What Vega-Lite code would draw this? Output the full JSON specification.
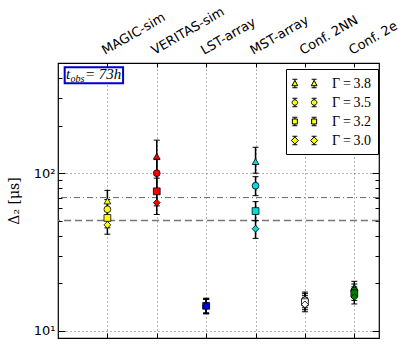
{
  "$schema": "https://vega.github.io/schema/vega-lite/v6.json",
  "width": 321,
  "height": 275,
  "autosize": "none",
  "padding": {"left": 58, "top": 63, "right": 36, "bottom": 8},
  "background": "white",
  "config": {
    "view": {"stroke": "black", "strokeWidth": 1.2},
    "axis": {"labelColor": "black", "tickColor": "black", "domain": false}
  },
  "data": {
    "values": [
      {"t": "MAGIC-sim", "g": "3.8", "v": 66.6, "lo": 57.5, "hi": 77.8},
      {"t": "MAGIC-sim", "g": "3.5", "v": 59, "lo": 51, "hi": 68},
      {"t": "MAGIC-sim", "g": "3.2", "v": 52, "lo": 45, "hi": 60},
      {"t": "MAGIC-sim", "g": "3.0", "v": 47, "lo": 41, "hi": 54},
      {"t": "VERITAS-sim", "g": "3.8", "v": 128, "lo": 101, "hi": 162},
      {"t": "VERITAS-sim", "g": "3.5", "v": 100, "lo": 80, "hi": 122},
      {"t": "VERITAS-sim", "g": "3.2", "v": 76.7, "lo": 62, "hi": 93},
      {"t": "VERITAS-sim", "g": "3.0", "v": 65, "lo": 54.7, "hi": 77},
      {"t": "LST-array", "g": "3.8", "v": 14.5, "lo": 13.0, "hi": 16.1},
      {"t": "LST-array", "g": "3.5", "v": 14.4, "lo": 12.9, "hi": 16.0},
      {"t": "LST-array", "g": "3.2", "v": 14.4, "lo": 12.9, "hi": 15.9},
      {"t": "LST-array", "g": "3.0", "v": 14.3, "lo": 12.8, "hi": 15.8},
      {"t": "MST-array", "g": "3.8", "v": 118.5, "lo": 100, "hi": 146},
      {"t": "MST-array", "g": "3.5", "v": 83.2, "lo": 72, "hi": 95},
      {"t": "MST-array", "g": "3.2", "v": 57.5, "lo": 50, "hi": 66},
      {"t": "MST-array", "g": "3.0", "v": 44.4, "lo": 38.6, "hi": 50},
      {"t": "Conf. 2NN", "g": "3.8", "v": 16.0, "lo": 14.4, "hi": 17.6},
      {"t": "Conf. 2NN", "g": "3.5", "v": 15.6, "lo": 14.0, "hi": 17.2},
      {"t": "Conf. 2NN", "g": "3.2", "v": 15.2, "lo": 13.6, "hi": 16.7},
      {"t": "Conf. 2NN", "g": "3.0", "v": 14.7, "lo": 13.2, "hi": 16.2},
      {"t": "Conf. 2e", "g": "3.8", "v": 18.8, "lo": 16.9, "hi": 20.6},
      {"t": "Conf. 2e", "g": "3.5", "v": 18.0, "lo": 16.2, "hi": 19.8},
      {"t": "Conf. 2e", "g": "3.2", "v": 17.3, "lo": 15.6, "hi": 19.0},
      {"t": "Conf. 2e", "g": "3.0", "v": 16.4, "lo": 14.8, "hi": 18.1}
    ]
  },
  "resolve": {
    "scale": {"shape": "independent"},
    "axis": {"x": "independent", "y": "independent"}
  },
  "layer": [
    {
      "data": {"values": [{"ref": 70}]},
      "mark": {"type": "rule", "color": "#666", "strokeWidth": 1, "strokeDash": [6, 3, 1, 3]},
      "encoding": {"y": {"field": "ref", "type": "quantitative", "axis": null}}
    },
    {
      "data": {"values": [{"ref": 50}]},
      "mark": {"type": "rule", "color": "#777", "strokeWidth": 1.5, "strokeDash": [7, 4]},
      "encoding": {"y": {"field": "ref", "type": "quantitative", "axis": null}}
    },
    {
      "mark": {"type": "rule", "color": "black", "strokeWidth": 1.5},
      "encoding": {
        "x": {
          "field": "t", "type": "nominal",
          "scale": {"type": "point", "padding": 0.75, "align": 0.6667,
            "domain": ["MAGIC-sim", "VERITAS-sim", "LST-array", "MST-array", "Conf. 2NN", "Conf. 2e"]},
          "axis": {
            "orient": "top", "title": null, "labels": false,
            "tickSize": -4, "grid": true, "gridDash": [1, 3],
            "gridColor": "#666", "gridWidth": 1
          }
        },
        "y": {
          "field": "lo", "type": "quantitative",
          "scale": {"type": "log", "domain": [9, 500], "nice": false, "zero": false},
          "axis": {
            "orient": "left",
            "values": [10, 20, 30, 40, 50, 60, 70, 80, 90, 100, 200, 300, 400],
            "labelExpr": "datum.value == 10 ? '10¹' : (datum.value == 100 ? '10²' : '')",
            "labelFont": "DejaVu Sans", "labelFontSize": 13, "labelPadding": 10,
            "labelOverlap": false,
            "tickSize": {"condition": {"test": "datum.value == 10 || datum.value == 100", "value": -7}, "value": -4},
            "grid": true, "gridDash": [1, 3], "gridColor": "#666",
            "gridOpacity": {"condition": {"test": "datum.value == 10 || datum.value == 100", "value": 1}, "value": 0},
            "title": "Δ₂ [μs]", "titleFont": "DejaVu Serif", "titleFontSize": 14,
            "titleFontWeight": "normal", "titleColor": "black", "titlePadding": 12
          }
        },
        "y2": {"field": "hi"}
      }
    },
    {
      "mark": {"type": "tick", "color": "black", "thickness": 1, "size": 6, "opacity": 1},
      "encoding": {
        "x": {"field": "t", "type": "nominal",
          "axis": {"orient": "bottom", "labels": false, "title": null, "tickSize": -5, "grid": false}},
        "y": {"field": "lo", "type": "quantitative",
          "axis": {
            "orient": "right", "labels": false, "title": null, "grid": false,
            "values": [10, 20, 30, 40, 50, 60, 70, 80, 90, 100, 200, 300, 400],
            "tickSize": {"condition": {"test": "datum.value == 10 || datum.value == 100", "value": -7}, "value": -4}
          }}
      }
    },
    {
      "mark": {"type": "tick", "color": "black", "thickness": 1, "size": 6, "opacity": 1},
      "encoding": {
        "x": {"field": "t", "type": "nominal", "axis": null},
        "y": {"field": "hi", "type": "quantitative", "axis": null}
      }
    },
    {
      "mark": {"type": "point", "filled": true, "stroke": "black", "strokeWidth": 0.8, "size": 46, "opacity": 1},
      "encoding": {
        "x": {"field": "t", "type": "nominal", "axis": null},
        "y": {"field": "v", "type": "quantitative", "axis": null},
        "shape": {"field": "g", "type": "nominal", "legend": null,
          "scale": {"domain": ["3.8", "3.5", "3.2", "3.0"], "range": ["triangle-up", "circle", "square", "diamond"]}},
        "fill": {"field": "t", "type": "nominal", "legend": null,
          "scale": {"domain": ["MAGIC-sim", "VERITAS-sim", "LST-array", "MST-array", "Conf. 2NN", "Conf. 2e"],
            "range": ["#ffff00", "#ff0000", "#0000ff", "#00dddd", "#ffffff", "#008000"]}}
      }
    },
    {
      "data": {"values": [{"t": "MAGIC-sim"}, {"t": "VERITAS-sim"}, {"t": "LST-array"}, {"t": "MST-array"}, {"t": "Conf. 2NN"}, {"t": "Conf. 2e"}]},
      "mark": {"type": "text", "font": "DejaVu Sans", "fontSize": 13, "color": "black", "align": "left", "baseline": "alphabetic", "dx": 2, "dy": -8, "clip": false},
      "encoding": {
        "x": {"field": "t", "type": "nominal", "axis": null},
        "y": {"datum": 500, "type": "quantitative", "axis": null},
        "angle": {"value": 330},
        "text": {"field": "t"}
      }
    },
    {
      "transform": [{"filter": "false"}],
      "mark": {"type": "point", "filled": true, "strokeWidth": 1, "opacity": 1},
      "encoding": {
        "fill": {"value": "#ffff00"},
        "stroke": {"value": "black"},
        "shape": {
          "field": "g", "type": "nominal",
          "scale": {
            "domain": ["3.8", "3.5", "3.2", "3.0"],
            "range": [
              "M-1.203,-0.531L-1.203,-0.406M-1.203,0.281L-1.203,0.531M-1.516,-0.531L-0.891,-0.531M-1.516,0.531L-0.891,0.531M-1.563,0.281L-0.844,0.281L-1.203,-0.406ZM1.203,-0.531L1.203,-0.406M1.203,0.281L1.203,0.531M0.891,-0.531L1.516,-0.531M0.891,0.531L1.516,0.531M0.844,0.281L1.563,0.281L1.203,-0.406Z",
              "M-1.203,-0.531L-1.203,-0.344M-1.203,0.344L-1.203,0.531M-1.516,-0.531L-0.891,-0.531M-1.516,0.531L-0.891,0.531M-1.547,0A0.344,0.344,0,1,0,-0.859,0A0.344,0.344,0,1,0,-1.547,0ZM1.203,-0.531L1.203,-0.344M1.203,0.344L1.203,0.531M0.891,-0.531L1.516,-0.531M0.891,0.531L1.516,0.531M0.859,0A0.344,0.344,0,1,0,1.547,0A0.344,0.344,0,1,0,0.859,0Z",
              "M-1.203,-0.531L-1.203,-0.313M-1.203,0.313L-1.203,0.531M-1.516,-0.531L-0.891,-0.531M-1.516,0.531L-0.891,0.531M-1.516,-0.313L-0.891,-0.313L-0.891,0.313L-1.516,0.313ZM1.203,-0.531L1.203,-0.313M1.203,0.313L1.203,0.531M0.891,-0.531L1.516,-0.531M0.891,0.531L1.516,0.531M0.891,-0.313L1.516,-0.313L1.516,0.313L0.891,0.313Z",
              "M-1.203,-0.531L-1.203,-0.438M-1.203,0.438L-1.203,0.531M-1.516,-0.531L-0.891,-0.531M-1.516,0.531L-0.891,0.531M-1.203,-0.438L-0.766,0L-1.203,0.438L-1.641,0ZM1.203,-0.531L1.203,-0.438M1.203,0.438L1.203,0.531M0.891,-0.531L1.516,-0.531M0.891,0.531L1.516,0.531M1.203,-0.438L1.641,0L1.203,0.438L0.766,0Z"
            ]
          },
          "legend": {
            "title": null, "orient": "none", "legendX": 228, "legendY": 6,
            "labelExpr": "'Γ\u2009=\u2009' + datum.label",
            "labelFont": "Liberation Serif", "labelFontSize": 14, "labelColor": "black",
            "symbolSize": 256, "symbolStrokeWidth": 1, "symbolOpacity": 1, "symbolOffset": 4,
            "strokeColor": "black", "fillColor": "white", "padding": 6,
            "labelOffset": 19, "rowPadding": 3, "cornerRadius": 0
          }
        }
      }
    },
    {
      "data": {"values": [{"t": "MAGIC-sim", "y": 418}]},
      "mark": {"type": "point", "filled": true, "fill": "white", "stroke": "#0000cc", "strokeWidth": 2, "opacity": 1,
        "shape": "M-1,-0.274L1,-0.274L1,0.274L-1,0.274Z", "size": 3411, "xOffset": -13.5},
      "encoding": {
        "x": {"field": "t", "type": "nominal", "axis": null},
        "y": {"field": "y", "type": "quantitative", "axis": null}
      }
    },
    {
      "data": {"values": [{"t": "MAGIC-sim", "y": 418, "s": "t"}]},
      "mark": {"type": "text", "font": "Liberation Serif", "fontStyle": "italic", "fontSize": 15, "align": "left", "baseline": "alphabetic", "dx": -41.4, "dy": 3.7, "color": "black"},
      "encoding": {
        "x": {"field": "t", "type": "nominal", "axis": null},
        "y": {"field": "y", "type": "quantitative", "axis": null},
        "text": {"field": "s"}
      }
    },
    {
      "data": {"values": [{"t": "MAGIC-sim", "y": 418, "s": "obs"}]},
      "mark": {"type": "text", "font": "Liberation Serif", "fontStyle": "italic", "fontSize": 10, "align": "left", "baseline": "alphabetic", "dx": -37, "dy": 7, "color": "black"},
      "encoding": {
        "x": {"field": "t", "type": "nominal", "axis": null},
        "y": {"field": "y", "type": "quantitative", "axis": null},
        "text": {"field": "s"}
      }
    },
    {
      "data": {"values": [{"t": "MAGIC-sim", "y": 418, "s": "= 73h"}]},
      "mark": {"type": "text", "font": "Liberation Serif", "fontStyle": "italic", "fontSize": 15, "align": "left", "baseline": "alphabetic", "dx": -22.4, "dy": 3.7, "color": "black"},
      "encoding": {
        "x": {"field": "t", "type": "nominal", "axis": null},
        "y": {"field": "y", "type": "quantitative", "axis": null},
        "text": {"field": "s"}
      }
    }
  ]
}
